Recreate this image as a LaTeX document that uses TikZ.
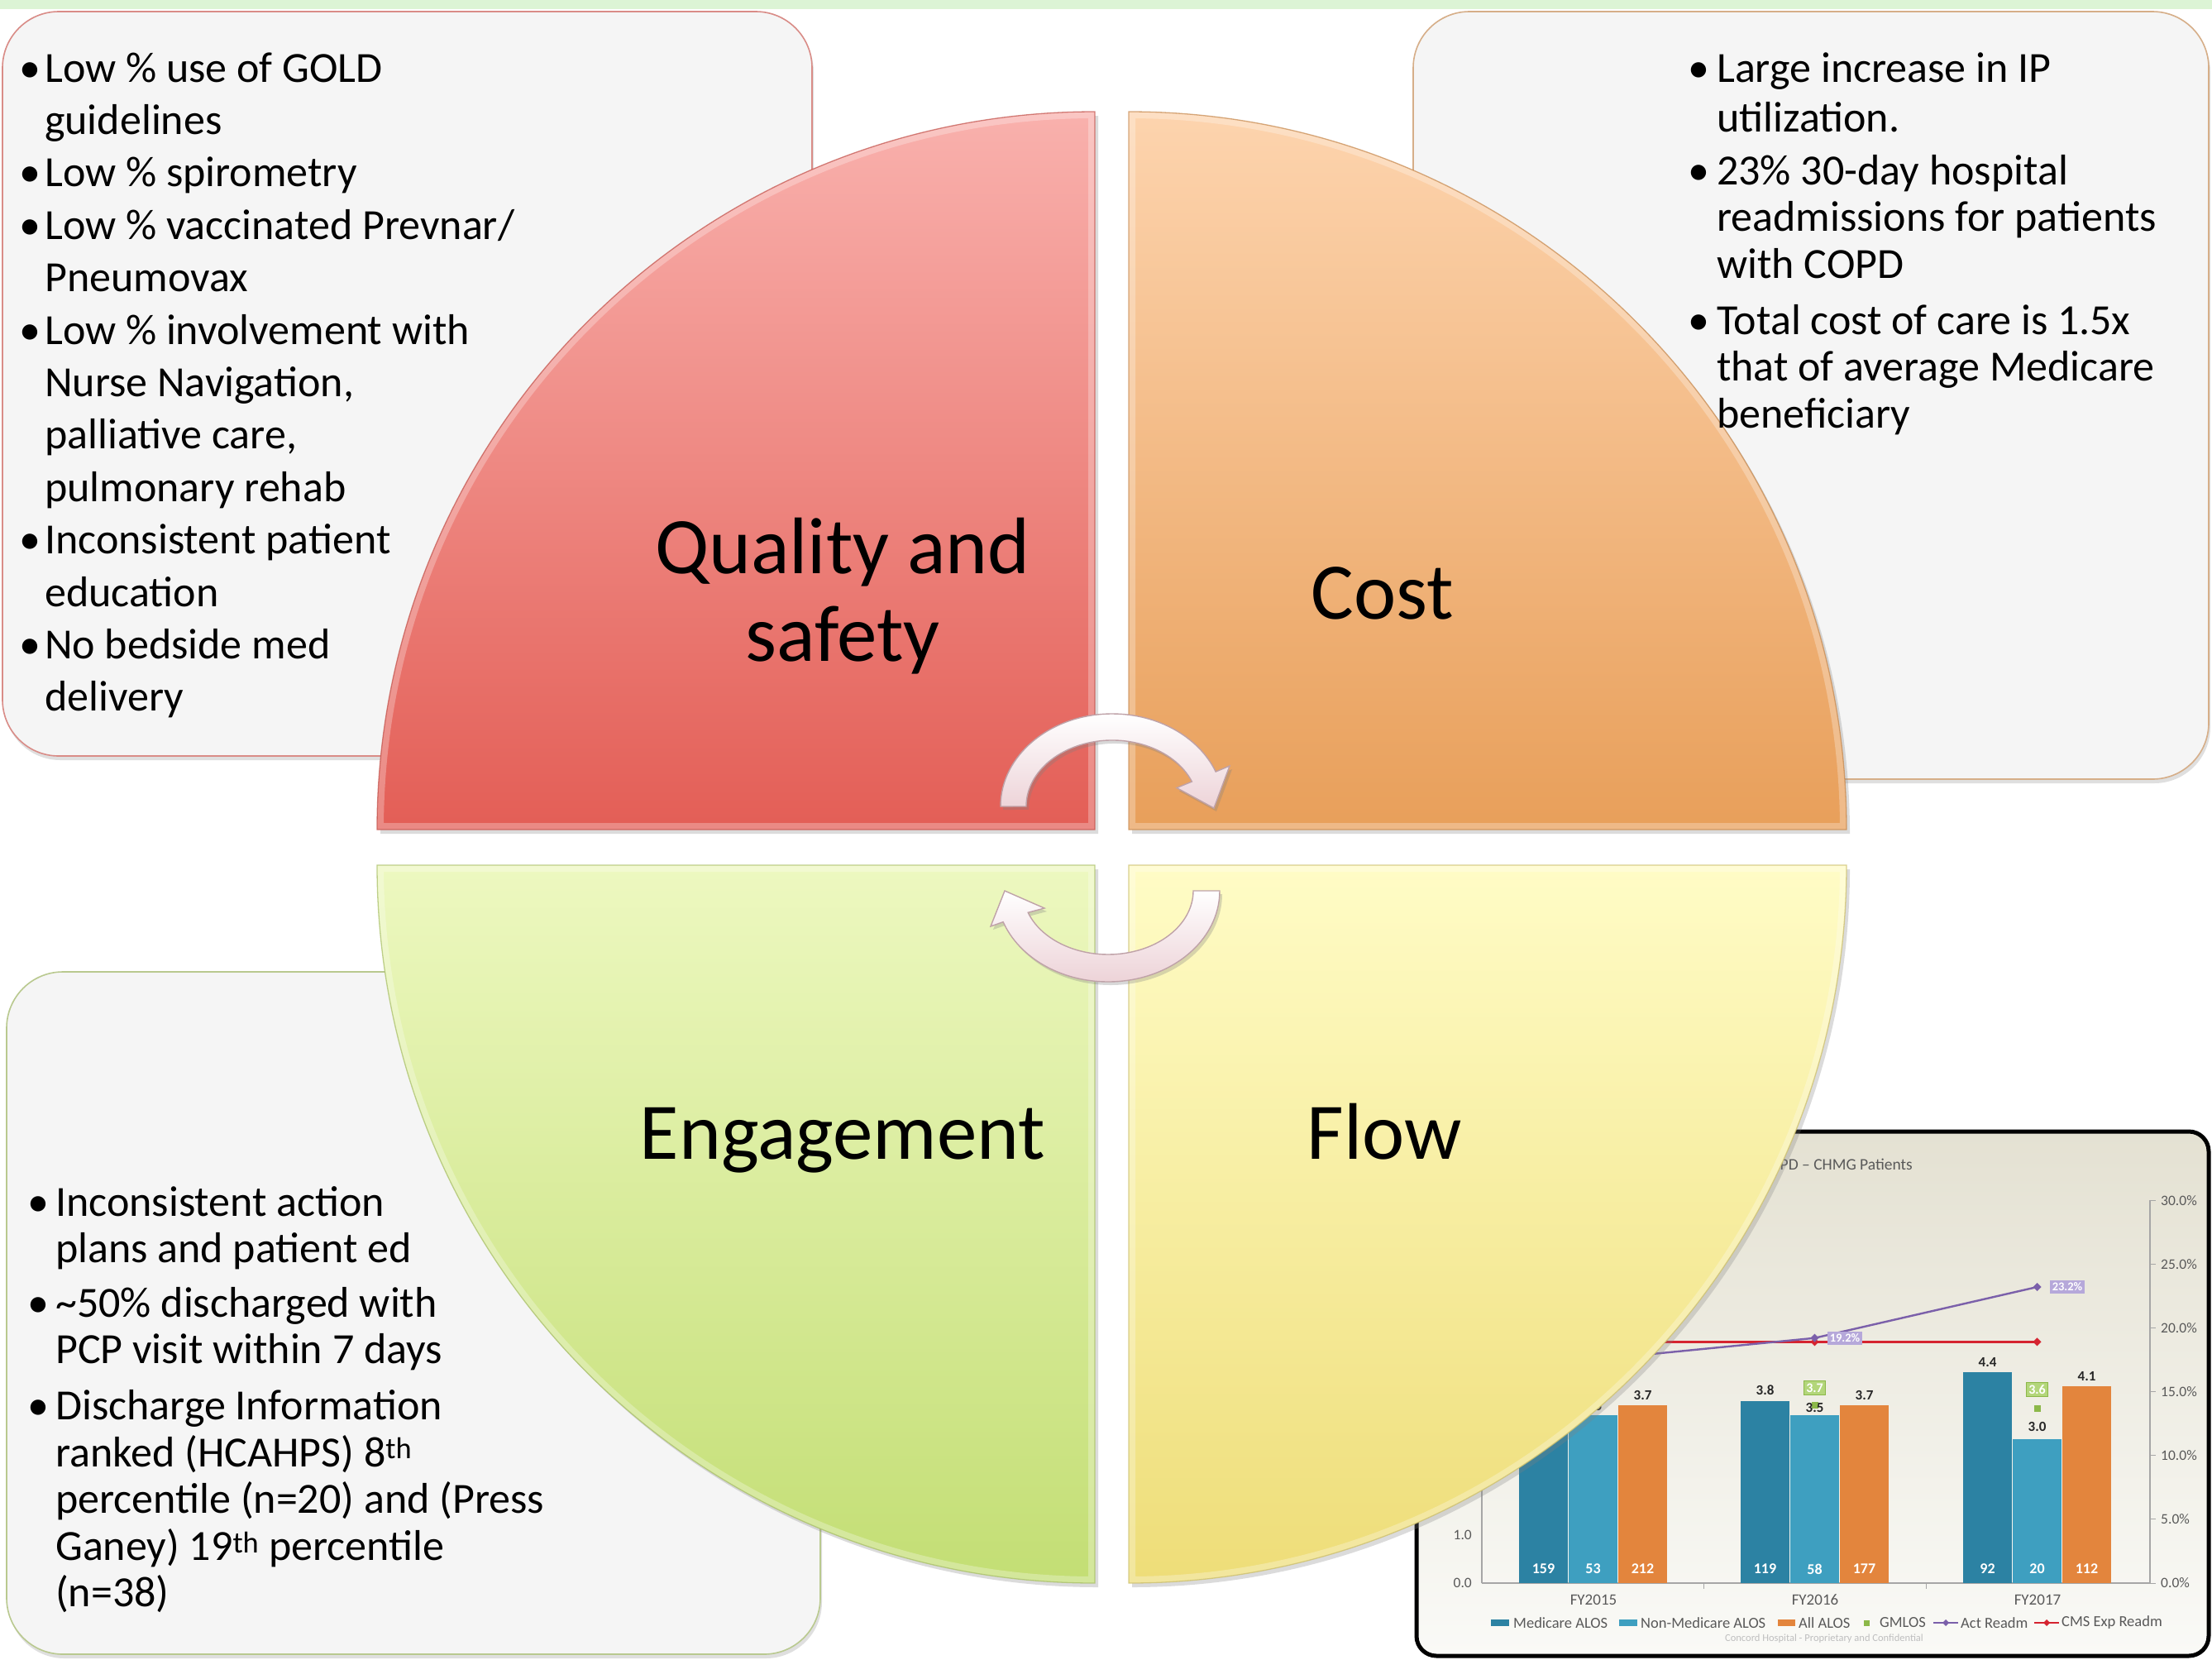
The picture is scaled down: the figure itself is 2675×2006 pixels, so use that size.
\documentclass[tikz,border=0pt]{standalone}
\usepackage{fontspec}
\setmainfont{Carlito}
\usetikzlibrary{shadows}

% palette
\definecolor{bandgreen}{HTML}{DCF4D5}
\definecolor{boxfill}{HTML}{F5F5F5}
\definecolor{qsTop}{HTML}{F9B1AD}
\definecolor{qsBot}{HTML}{E35E56}
\definecolor{qsEdge}{HTML}{D98C87}
\definecolor{coTop}{HTML}{FDD4AE}
\definecolor{coBot}{HTML}{E89F5A}
\definecolor{coEdge}{HTML}{D6AE88}
\definecolor{enTop}{HTML}{EDF8C0}
\definecolor{enBot}{HTML}{C3DE74}
\definecolor{enEdge}{HTML}{B9C98F}
\definecolor{flTop}{HTML}{FFFCC6}
\definecolor{flBot}{HTML}{EEDD78}
\definecolor{arrPink}{HTML}{EDD3D8}
\definecolor{arrEdge}{HTML}{BFA2A8}
% chart palette
\definecolor{chTop}{HTML}{E4E1D2}
\definecolor{chBot}{HTML}{FAFAF7}
\definecolor{medC}{HTML}{2C82A3}
\definecolor{nonC}{HTML}{3E9FC0}
\definecolor{allC}{HTML}{E3853D}
\definecolor{gmC}{HTML}{8CB849}
\definecolor{gmLight}{HTML}{B3D67A}
\definecolor{actC}{HTML}{7B60AA}
\definecolor{cmsC}{HTML}{D52430}
\definecolor{lavC}{HTML}{B6A8DA}
\definecolor{axisC}{HTML}{A6A6A6}
\definecolor{chText}{HTML}{595959}
\definecolor{footC}{HTML}{BFBFBF}

\newcommand{\bodyA}{\fontsize{52}{63.4}\selectfont}
\newcommand{\bodyB}{\fontsize{52}{56.6}\selectfont}
\newcommand{\bigfont}{\fontsize{97}{106}\selectfont}
\newcommand{\bul}[1]{\llap{\makebox[#1][c]{\textbullet}}}

\tikzset{
  infobox/.style={fill=boxfill, line width=1.6pt, rounded corners=68pt,
    drop shadow={shadow xshift=2pt, shadow yshift=-5pt, opacity=0.25}},
  quad/.style={drop shadow={shadow xshift=4pt, shadow yshift=-5pt, opacity=0.28}},
  bevel/.style={draw=white, draw opacity=0.28, line width=16pt},
  rim/.style={line width=1.3pt, draw opacity=0.7},
  qspath/.style={insert path={(1324,-1003) -- (456,-1003) arc[start angle=180, end angle=90, radius=868] -- cycle}},
  copath/.style={insert path={(1365,-1003) -- (1365,-135) arc[start angle=90, end angle=0, radius=868] -- cycle}},
  enpath/.style={insert path={(1324,-1046) -- (456,-1046) arc[start angle=180, end angle=270, radius=868] -- cycle}},
  flpath/.style={insert path={(1365,-1046) -- (2233,-1046) arc[start angle=0, end angle=-90, radius=868] -- cycle}},
  arrowband/.style={top color=white, bottom color=arrPink, draw=arrEdge, line width=1.4pt,
    drop shadow={shadow xshift=3pt, shadow yshift=-4pt, opacity=0.3}},
  lbl/.style={font=\bigfont, inner sep=0, text=black},
  txt/.style={inner sep=0, text=black},
  ctxt/.style={inner sep=0, text=chText, font=\fontsize{18.5}{20}\selectfont},
  axlab/.style={inner sep=0, text=chText, font=\fontsize{17.5}{19}\selectfont},
  vlab/.style={inner sep=0, text=black!85, font=\fontsize{17}{19}\selectfont\bfseries},
  cnt/.style={inner sep=0, text=white, font=\fontsize{18}{20}\selectfont\bfseries},
  gbox/.style={fill=gmLight, draw=gmC, line width=0.8pt, text=white, inner sep=3pt,
    font=\fontsize{16}{18}\selectfont\bfseries},
  pbox/.style={fill=lavC, text=white, inner sep=3pt, font=\fontsize{14.5}{16}\selectfont\bfseries},
}

\begin{document}
\begin{tikzpicture}[x=1pt, y=1pt]
\useasboundingbox (0,0) rectangle (2675,-2006);
\fill[white] (0,0) rectangle (2675,-2006);
\fill[bandgreen] (0,0) rectangle (2675,-11);

% note panels behind the quadrants
\path[infobox, draw=qsEdge] (3,-14) rectangle (982,-914);
\path[infobox, draw=coEdge] (1709,-14) rectangle (2671,-942);
\path[infobox, draw=enEdge] (8,-1175) rectangle (992,-2000);

% ---------- readmission / length-of-stay chart ----------
\path[draw=black, line width=5pt, rounded corners=24pt, top color=chTop, bottom color=chBot]
  (1713,-1368) rectangle (2671,-2002);
\node[axlab, anchor=east, font=\fontsize{19.5}{21}\selectfont] (ctitle) at (2313,-1408) {PD -- CHMG Patients};

\draw[axisC, line width=1.2pt] (1792,-1914) -- (2600,-1914);
\draw[axisC, line width=1.2pt] (2600,-1451) -- (2600,-1914);
\draw[axisC, line width=1.2pt] (1792,-1914) -- (1792,-1560);
\foreach \p in {0,5,...,30}
  \draw[axisC, line width=1pt] (2600,{-1914+15.43*\p}) -- (2607,{-1914+15.43*\p});
\foreach \p/\t in {0/0.0,5/5.0,10/10.0,15/15.0,20/20.0,25/25.0,30/30.0}
  \node[axlab, anchor=west] (ra\p) at (2613,{-1914+15.43*\p}) {\t\%};
\node[axlab, anchor=east] (la1) at (1780,-1856) {1.0};
\node[axlab, anchor=east] (la0) at (1780,-1914) {0.0};
\draw[axisC, line width=1pt] (2060,-1914) -- (2060,-1921);
\draw[axisC, line width=1pt] (2329,-1914) -- (2329,-1921);

\foreach \xa/\v/\c in {1837/3.8/medC, 1897/3.5/nonC, 1957/3.7/allC,
                       2105/3.8/medC, 2165/3.5/nonC, 2225/3.7/allC,
                       2374/4.4/medC, 2434/3.0/nonC, 2494/4.1/allC}
  \fill[\c] (\xa,-1914) rectangle ({\xa+59},{-1914+58*\v});

\foreach \xc/\n [count=\i] in {1866.5/159, 1926.5/53, 1986.5/212,
                               2134.5/119, 2194.5/58, 2254.5/177,
                               2403.5/92, 2463.5/20, 2523.5/112}
  \node[cnt] (cnt\i) at (\xc,-1897) {\n};

% GMLOS markers
\fill[gmC] (2190.5,-1695) rectangle (2198.5,-1703);
\fill[gmC] (2459.5,-1699) rectangle (2467.5,-1707);

\node[vlab] (v15b) at (1926.5,-1700) {3.5};
\node[vlab] (v15c) at (1986.5,-1687) {3.7};
\node[vlab] (v16a) at (2134.5,-1681) {3.8};
\node[vlab] (v16b) at (2194.5,-1702) {3.5};
\node[vlab] (v16c) at (2254.5,-1687) {3.7};
\node[vlab] (v17a) at (2403.5,-1647) {4.4};
\node[vlab] (v17b) at (2463.5,-1725) {3.0};
\node[vlab] (v17c) at (2523.5,-1664) {4.1};
\node[gbox] (gm16) at (2194.5,-1678) {3.7};
\node[gbox] (gm17) at (2463.5,-1680) {3.6};

% readmission rates (right axis)
\draw[cmsC, line width=2.4pt] (1926.5,-1622.4) -- (2194.5,-1622.4) -- (2463.5,-1622.4);
\foreach \xc in {1926.5,2194.5,2463.5}
  \fill[cmsC] (\xc,-1622.4) ++(-5,0) -- ++(5,5) -- ++(5,-5) -- ++(-5,-5) -- cycle;
\draw[actC, line width=2.4pt] (1926.5,-1644) -- (2194.5,-1617.7) -- (2463.5,-1556);
\fill[actC] (2194.5,-1617.7) ++(-5,0) -- ++(5,5) -- ++(5,-5) -- ++(-5,-5) -- cycle;
\fill[actC] (2463.5,-1556) ++(-5,0) -- ++(5,5) -- ++(5,-5) -- ++(-5,-5) -- cycle;
\node[pbox] (act16) at (2231,-1618) {19.2\%};
\node[pbox] (act17) at (2500,-1556) {23.2\%};

\node[axlab, font=\fontsize{19}{21}\selectfont] (fy15) at (1927,-1934) {FY2015};
\node[axlab, font=\fontsize{19}{21}\selectfont] (fy16) at (2195,-1934) {FY2016};
\node[axlab, font=\fontsize{19}{21}\selectfont] (fy17) at (2464,-1934) {FY2017};

% legend
\fill[medC] (1803,-1958) rectangle (1825,-1966);
\node[ctxt, anchor=west] (lg1) at (1830,-1962) {Medicare ALOS};
\fill[nonC] (1958,-1958) rectangle (1980,-1966);
\node[ctxt, anchor=west] (lg2) at (1984,-1962) {Non-Medicare ALOS};
\fill[allC] (2150,-1958) rectangle (2171,-1966);
\node[ctxt, anchor=west] (lg3) at (2175,-1962) {All ALOS};
\fill[gmC] (2254,-1958.5) rectangle (2261,-1965.5);
\node[ctxt, anchor=west] (lg4) at (2273,-1962) {GMLOS};
\draw[actC, line width=2pt] (2338,-1962) -- (2368,-1962);
\fill[actC] (2353,-1962) ++(-4,0) -- ++(4,4) -- ++(4,-4) -- ++(-4,-4) -- cycle;
\node[ctxt, anchor=west] (lg5) at (2371,-1962) {Act Readm};
\draw[cmsC, line width=2pt] (2460,-1962) -- (2490,-1962);
\fill[cmsC] (2475,-1962) ++(-4,0) -- ++(4,4) -- ++(4,-4) -- ++(-4,-4) -- cycle;
\node[ctxt, anchor=west] (lg6) at (2493,-1962) {CMS Exp Readm};
\node[ctxt, text=footC, font=\fontsize{12.5}{14}\selectfont] (foot) at (2206,-1981)
  {Concord Hospital - Proprietary and Confidential};

% ---------- four quadrants ----------
\path[quad, top color=qsTop, bottom color=qsBot, qspath];
\begin{scope}\path[clip, qspath]; \path[bevel, qspath];\end{scope}
\path[rim, draw=qsBot!85!black, qspath];

\path[quad, top color=coTop, bottom color=coBot, copath];
\begin{scope}\path[clip, copath]; \path[bevel, copath];\end{scope}
\path[rim, draw=coBot!85!black, copath];

\path[quad, top color=enTop, bottom color=enBot, enpath];
\begin{scope}\path[clip, enpath]; \path[bevel, enpath];\end{scope}
\path[rim, draw=enBot!85!black, enpath];

\path[quad, top color=flTop, bottom color=flBot, flpath];
\begin{scope}\path[clip, flpath]; \path[bevel, flpath];\end{scope}
\path[rim, draw=flBot!85!black, flpath];

% cycle arrows
\path[arrowband] (1210,-975) arc[start angle=180, end angle=22, x radius=135, y radius=112]
  -- (1487,-926) -- (1468,-977) -- (1423,-952.5) -- (1441.4,-945)
  arc[start angle=22, end angle=180, x radius=104, y radius=80] -- cycle;
\path[arrowband] (1475,-1077) arc[start angle=0, end angle=-160, x radius=135, y radius=110]
  -- (1198,-1120) -- (1215,-1077) -- (1263,-1098) -- (1243.2,-1103.3)
  arc[start angle=-160, end angle=0, x radius=103, y radius=77] -- cycle;

% quadrant titles
\node[lbl, anchor=base] (qs) at (1019,-799)
  {\begin{tabular}[b]{@{}c@{}}Quality and\\ safety\end{tabular}};
\node[lbl, anchor=base] (cost) at (1672,-748) {Cost};
\node[lbl, anchor=base] (eng) at (1019,-1401) {Engagement};
\node[lbl, anchor=base] (flow) at (1674,-1401) {Flow};

% panel notes
\node[txt, font=\bodyA, anchor=base west] (qsnotes) at (54,-99)
  {\begin{tabular}[t]{@{}l@{}}
  \bul{36pt}Low \% use of GOLD\\
  guidelines\\
  \bul{36pt}Low \% spirometry\\
  \bul{36pt}Low \% vaccinated Prevnar/\\
  Pneumovax\\
  \bul{36pt}Low \% involvement with\\
  Nurse Navigation,\\
  palliative care,\\
  pulmonary rehab\\
  \bul{36pt}Inconsistent patient\\
  education\\
  \bul{36pt}No bedside med\\
  delivery
  \end{tabular}};

\node[txt, font=\bodyB, anchor=base west] (costnotes) at (2076,-99)
  {\begin{tabular}[t]{@{}l@{}}
  \bul{44pt}Large increase in IP\\[4pt]
  utilization.\\[7pt]
  \bul{44pt}23\% 30-day hospital\\
  readmissions for patients\\
  with COPD\\[11pt]
  \bul{44pt}Total cost of care is 1.5x\\
  that of average Medicare\\
  beneficiary
  \end{tabular}};

\node[txt, font=\bodyB, anchor=base west] (engnotes) at (67,-1470)
  {\begin{tabular}[t]{@{}l@{}}
  \bul{42pt}Inconsistent action\\
  plans and patient ed\\[9pt]
  \bul{42pt}\textasciitilde 50\% discharged with\\
  PCP visit within 7 days\\[11pt]
  \bul{42pt}Discharge Information\\
  ranked (HCAHPS) 8\textsuperscript{th}\\
  percentile (n=20) and (Press\\
  Ganey) 19\textsuperscript{th} percentile\\
  (n=38)
  \end{tabular}};
\end{tikzpicture}
\end{document}
